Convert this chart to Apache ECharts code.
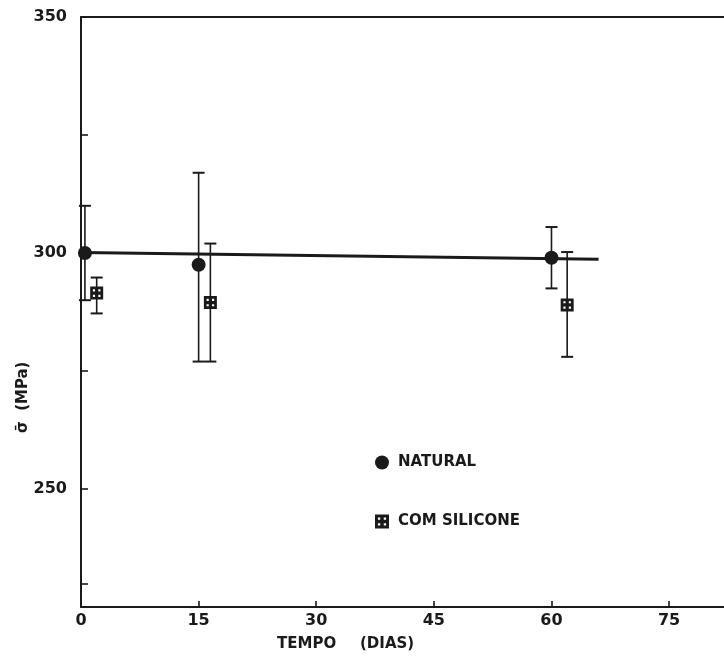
<!DOCTYPE html>
<html>
<head>
<meta charset="utf-8">
<script src="https://cdn.jsdelivr.net/npm/echarts@6/dist/echarts.min.js"></script>
<style>html,body{margin:0;padding:0;background:#fff}#c{width:724px;height:658px}</style>
</head>
<body>
<div id="c"></div>
<script>
// Data
var xTicks = [0, 15, 30, 45, 60, 75];
var yLabels = [250, 300, 350];
var yTicks = [230, 250, 275, 300, 325, 350];

var naturalX = [0.5, 15, 60];
var naturalY = [300, 297.5, 299];
var naturalLow = [290, 277, 292.5];
var naturalHigh = [310, 317, 305.5];

var siliconeX = [2, 16.5, 62];
var siliconeY = [291.5, 289.5, 289];
var siliconeLow = [287.2, 277, 278];
var siliconeHigh = [294.8, 302, 300.2];

var fitX = [0, 66];
var fitY = [300.1, 298.7];

var INK = '#1a1a1a';
var FONT = 'DejaVu Sans';

function pairs(xs, ys) { return xs.map(function (x, i) { return [x, ys[i]]; }); }
function triples(xs, lo, hi) { return xs.map(function (x, i) { return [x, lo[i], hi[i]]; }); }

function errRender(params, api) {
  var x = api.value(0);
  var top = api.coord([x, api.value(2)]);
  var bot = api.coord([x, api.value(1)]);
  var w = 6;
  return {
    type: 'group',
    children: [
      { type: 'line', shape: { x1: top[0], y1: top[1], x2: bot[0], y2: bot[1] }, style: { stroke: INK, lineWidth: 1.6 } },
      { type: 'line', shape: { x1: top[0] - w, y1: top[1], x2: top[0] + w, y2: top[1] }, style: { stroke: INK, lineWidth: 2 } },
      { type: 'line', shape: { x1: bot[0] - w, y1: bot[1], x2: bot[0] + w, y2: bot[1] }, style: { stroke: INK, lineWidth: 2 } }
    ]
  };
}

var squareSym = 'path://M0,0 L12,0 L12,12 L0,12 Z M2.5,2.5 L2.5,4.5 L4.5,4.5 L4.5,2.5 Z M7.5,2.5 L7.5,4.5 L9.5,4.5 L9.5,2.5 Z M2.5,7.5 L2.5,9.5 L4.5,9.5 L4.5,7.5 Z M7.5,7.5 L7.5,9.5 L9.5,9.5 L9.5,7.5 Z';

var chart = echarts.init(document.getElementById('c'), null, { renderer: 'canvas' });
chart.setOption({
  animation: false,
  backgroundColor: '#ffffff',
  textStyle: { fontFamily: FONT },
  grid: { left: 81, top: 17, right: 0, bottom: 51, show: false, outerBoundsMode: 'none' },
  xAxis: [{
    type: 'value', min: 0, max: 82,
    axisLine: { show: true, onZero: false, lineStyle: { color: INK, width: 2 } },
    axisTick: { show: true, inside: true, length: 6, lineStyle: { color: INK, width: 1.6 }, customValues: xTicks },
    axisLabel: { color: INK, fontSize: 16, fontWeight: 'bold', fontFamily: FONT, margin: 6, customValues: xTicks },
    splitLine: { show: false }
  }, {
    type: 'value', min: 0, max: 82, position: 'top',
    axisLine: { show: true, onZero: false, lineStyle: { color: INK, width: 2 } },
    axisTick: { show: false }, axisLabel: { show: false }, splitLine: { show: false }
  }],
  yAxis: {
    type: 'value', min: 225, max: 350,
    axisLine: { show: true, onZero: false, lineStyle: { color: INK, width: 2 } },
    axisTick: { show: true, inside: true, length: 7, lineStyle: { color: INK, width: 1.6 }, customValues: yTicks },
    axisLabel: { color: INK, fontSize: 16, fontWeight: 'bold', fontFamily: FONT, margin: 14, customValues: yLabels },
    splitLine: { show: false }
  },
  legend: {
    orient: 'vertical', left: 370, top: 450, itemGap: 44,
    itemWidth: 14, itemHeight: 14,
    textStyle: { color: INK, fontSize: 15, fontWeight: 'bold', fontFamily: FONT, padding: [0, 0, 0, 4] },
    data: [{ name: 'NATURAL', icon: 'circle' }, { name: 'COM SILICONE', icon: squareSym }],
    itemStyle: { opacity: 1 }
  },
  graphic: [
    { type: 'text', left: 277, top: 637, style: { text: 'TEMPO', fill: INK, font: 'bold 15px "DejaVu Sans"' } },
    { type: 'text', left: 360, top: 637, style: { text: '(DIAS)', fill: INK, font: 'bold 15px "DejaVu Sans"' } },
    { type: 'text', x: 16, y: 433, rotation: Math.PI / 2, style: { text: 'σ̄  (MPa)', fill: INK, font: 'bold 15px "DejaVu Sans"' } }
  ],
  series: [
    { type: 'line', name: 'fit', data: pairs(fitX, fitY), symbol: 'none', lineStyle: { color: INK, width: 3 }, z: 2, silent: true },
    { type: 'custom', name: 'natErr', data: triples(naturalX, naturalLow, naturalHigh), renderItem: errRender, z: 3, silent: true },
    { type: 'custom', name: 'silErr', data: triples(siliconeX, siliconeLow, siliconeHigh), renderItem: errRender, z: 3, silent: true },
    { type: 'scatter', name: 'NATURAL', data: pairs(naturalX, naturalY), symbol: 'circle', symbolSize: 14, itemStyle: { color: INK, opacity: 1 }, z: 5 },
    { type: 'scatter', name: 'COM SILICONE', data: pairs(siliconeX, siliconeY), symbol: squareSym, symbolSize: 13, itemStyle: { color: INK, opacity: 1 }, z: 5 }
  ]
});
</script>
</body>
</html>
